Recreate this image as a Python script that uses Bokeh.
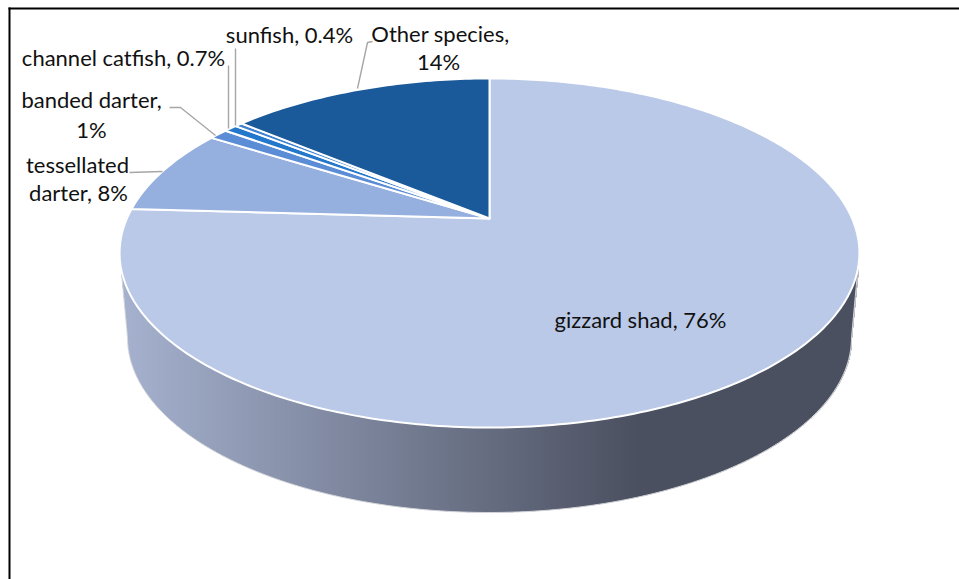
import numpy as np
from bokeh.plotting import figure
from bokeh.models import Range1d
from bokeh.core.properties import value
from bokeh.embed import file_html
from bokeh.resources import INLINE

# data
species = ["gizzard shad", "tessellated darter", "banded darter", "channel catfish", "sunfish", "Other species"]
shares = [76, 8, 1, 0.7, 0.4, 14]
slice_colors = ["#BAC9E7", "#95B0DF", "#5B8CD6", "#2478CC", "#3F82D2", "#1B5A9A"]

label_lines = ["sunfish, 0.4%", "Other species,", "14%", "channel catfish, 0.7%", "banded darter,", "1%",
               "tessellated", "darter, 8%", "gizzard shad, 76%"]
label_x = [289, 440, 438, 123, 91, 91, 77, 78, 640]
label_y = [33.5, 33, 61, 56.5, 98.5, 129, 164, 192, 318.5]

W, H = 959, 579
p = figure(width=W, height=H, output_backend="svg", toolbar_location=None,
           x_range=Range1d(0, W), y_range=Range1d(H, 0), min_border=0,
           outline_line_color=None, background_fill_color="white")
p.axis.visible = False
p.grid.visible = False

# geometry of the tilted disc (projective map of the unit circle)
CX, CY = 489.0, 218.0
K, A, B = 0.1977, 167.7, 362.6

def project(theta):
    u, v = np.sin(theta), np.cos(theta)
    d = 1 + K * v
    return CX + B * u / d, CY - A * v / d

# side wall as a horizontal gradient
RX2, RY2, CY2 = 362.0, 175.0, 337.0
left_stop, dark_stop = 122.0, 637.0
c0, c1 = np.array([165, 177, 206.]), np.array([75, 80, 96.])
cols = np.arange(120.5, 857.5, 1.0)
off = np.abs(cols + 0.5 - CX)
bottom = np.where(off < RX2, CY2 + RY2 * np.sqrt(np.clip(1 - (off / RX2) ** 2, 0, 1)),
                  272 + (RX2 + 6.5 - off) * (65 / 6.5))
t = np.clip((cols - left_stop) / (dark_stop - left_stop), 0, 1)
wall_colors = ["#%02x%02x%02x" % tuple(int(round(c)) for c in c0 + (c1 - c0) * x) for x in t]
p.quad(left=cols, right=cols + 1.4, top=np.full_like(cols, 252.0), bottom=bottom,
       fill_color=wall_colors, line_color=None)

# thin outline of the wall
ang = np.linspace(0, np.pi, 200)
ox = np.r_[CX - 368.0, CX - RX2 * np.cos(ang), CX + 368.0]
oy = np.r_[272.0, CY2 + RY2 * np.sin(ang), 272.0]
p.line(ox, oy, line_color="#D4D6DB", line_width=1)

# top of the disc
frac = np.cumsum([0] + shares) / sum(shares)
xs, ys = [], []
for a, b in zip(frac[:-1], frac[1:]):
    th = np.linspace(a, b, max(4, int((b - a) * 400))) * 2 * np.pi
    ex, ey = project(th)
    xs.append(np.r_[CX, ex].tolist())
    ys.append(np.r_[CY, ey].tolist())
p.patches(xs, ys, fill_color=slice_colors, line_color="white", line_width=2, line_join="round")

# leader lines
lead_x = [[372, 367, 357], [235, 235], [228, 228], [169, 180, 215], [129, 162]]
lead_y = [[41, 42, 88], [48, 125], [65, 128], [107, 107, 135], [172, 171]]
p.multi_line(lead_x, lead_y, line_color="#A6A6A6", line_width=1.4)

# texts
p.text(label_x, label_y, text=label_lines, text_align="center", text_baseline="middle",
       text_color="#111111", text_font=value("Lato"), text_font_size="22px")

# frame of the picture
p.segment([8, 9], [8, 7], [W, 9], [8, H], line_color="black", line_width=2)

open("out.html", "w").write(file_html(p, INLINE))
